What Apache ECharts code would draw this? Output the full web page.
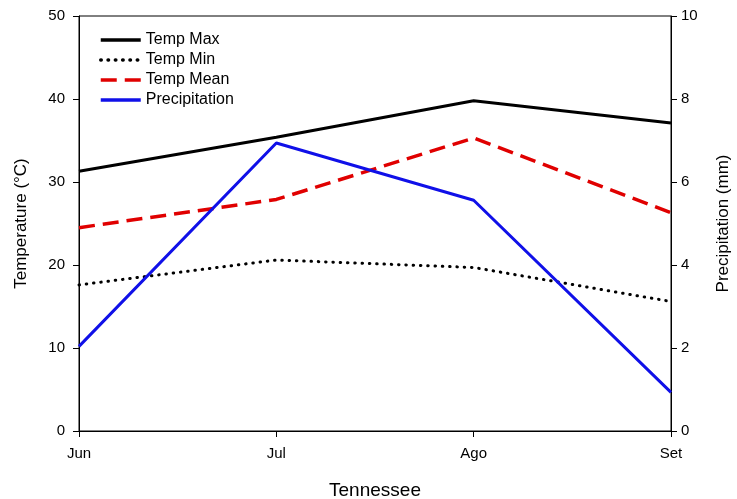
<!DOCTYPE html>
<html><head><meta charset="utf-8">
<script src="https://cdn.jsdelivr.net/npm/echarts@6/dist/echarts.min.js"></script>
<style>html,body{margin:0;padding:0;background:#fff}#c{width:737px;height:499px}</style>
</head><body><div id="c"></div>
<script>
const months = ['Jun', 'Jul', 'Ago', 'Set'];
const tempMax = [31.3, 35.4, 39.8, 37.1];
const tempMin = [17.6, 20.6, 19.7, 15.6];
const tempMean = [24.5, 27.9, 35.3, 26.3];
const precipitation = [2.04, 6.94, 5.56, 0.93];

const font = 'Liberation Sans, Arial, sans-serif';
const chart = echarts.init(document.getElementById('c'));
chart.setOption({
  animation: false,
  backgroundColor: '#fff',
  grid: { left: 79, right: 66, top: 16, bottom: 68, show: true, borderColor: '#000', borderWidth: 1,
    containLabel: false, outerBoundsMode: 'none' },
  legend: {
    orient: 'vertical', left: 94, top: 27, itemWidth: 40, itemHeight: 12, itemGap: 4,
    itemStyle: { opacity: 0 },
    lineStyle: { width: 3.5 },
    textStyle: { fontFamily: font, fontSize: 16, color: '#000' },
    data: ['Temp Max', 'Temp Min', 'Temp Mean', 'Precipitation']
  },
  xAxis: {
    type: 'category', data: months, boundaryGap: false,
    name: 'Tennessee', nameLocation: 'middle', nameGap: 50,
    nameTextStyle: { fontFamily: font, fontSize: 19, color: '#000' },
    axisLine: { lineStyle: { color: '#000', width: 1 } },
    axisTick: { show: true, length: 6, lineStyle: { color: '#000' }, alignWithLabel: true },
    axisLabel: { fontFamily: font, fontSize: 15, color: '#000', margin: 15 },
    splitLine: { show: false }
  },
  yAxis: [{
    type: 'value', min: 0, max: 50, interval: 10,
    name: 'Temperature (°C)', nameLocation: 'middle', nameGap: 49,
    nameTextStyle: { fontFamily: font, fontSize: 17, color: '#000' },
    axisLine: { show: true, lineStyle: { color: '#000' } },
    axisTick: { show: true, length: 6, lineStyle: { color: '#000' } },
    axisLabel: { fontFamily: font, fontSize: 15, color: '#000', margin: 14 },
    splitLine: { show: false }
  }, {
    type: 'value', min: 0, max: 10, interval: 2, position: 'right',
    name: 'Precipitation (mm)', nameLocation: 'middle', nameGap: 44, nameRotate: 90,
    nameTextStyle: { fontFamily: font, fontSize: 17, color: '#000' },
    axisLine: { show: true, lineStyle: { color: '#000' } },
    axisTick: { show: true, length: 6, lineStyle: { color: '#000' } },
    axisLabel: { fontFamily: font, fontSize: 15, color: '#000', margin: 10 },
    splitLine: { show: false }
  }],
  series: [
    { name: 'Temp Max', type: 'line', data: tempMax, symbol: 'none', color: '#000',
      lineStyle: { color: '#000', width: 3 } },
    { name: 'Temp Min', type: 'line', data: tempMin, symbol: 'none', color: '#000',
      lineStyle: { color: '#000', width: 3, type: [0.5, 6.8], cap: 'round' } },
    { name: 'Temp Mean', type: 'line', data: tempMean, symbol: 'none', color: '#e00000',
      lineStyle: { color: '#e00000', width: 3.5, type: [16, 8] } },
    { name: 'Precipitation', type: 'line', yAxisIndex: 1, data: precipitation, symbol: 'none', color: '#1010e8',
      lineStyle: { color: '#1010e8', width: 3 } }
  ]
});
</script></body></html>
